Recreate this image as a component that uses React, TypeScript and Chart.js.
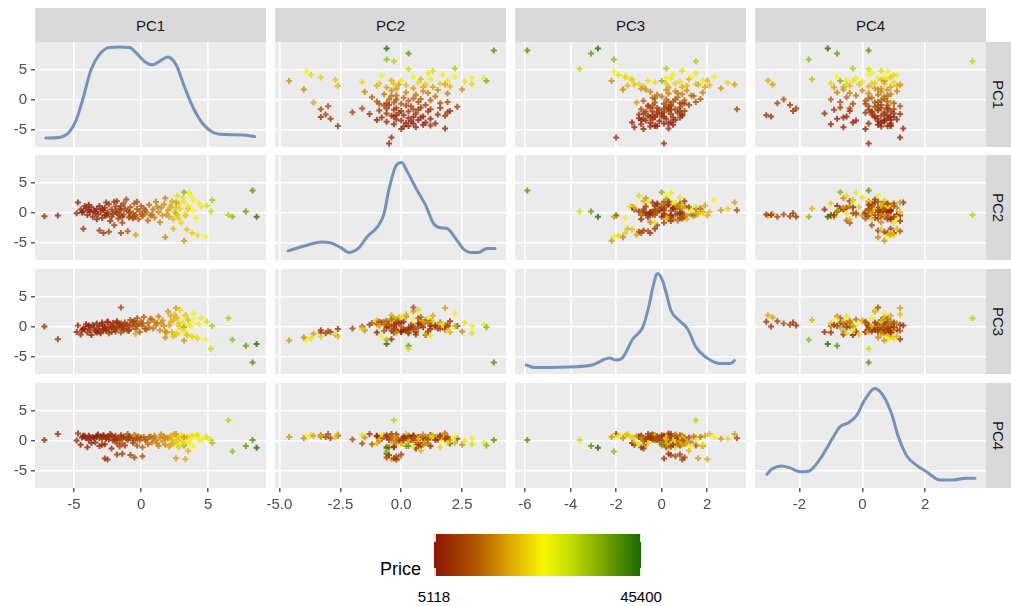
import React, { useEffect, useRef } from "react";
import { Chart, registerables } from "chart.js";
Chart.register(...registerables);

// ---------------- data ----------------
const variables = ["PC1", "PC2", "PC3", "PC4"];

const pc1 = [
  -7.2, -6.2,
  -4.8, -4.7, -4.5, -4.3, -4.1, -4.0, -3.9, -3.8, -3.7, -3.6, -3.5, -3.4, -3.3, -3.2, -3.1, -3.0, -2.9, -2.8, -2.7, -2.6, -2.5, -2.4, -2.3, -2.2, -2.1, -2.0, -1.9, -1.8, -1.7, -1.6, -1.5, -1.3, -1.2, -1.1, -4.2,
  3.3, 2.6, -0.5, -2.7, -1.8, -0.8, 0.1, -1.4, 3.5, -2.5,
  -4.3, -3.1, -2.8, -2.4, -1.5, -1.0, -2.0, -1.4,
  -1.0, -0.9, -0.8, -0.6, -0.5, -0.4, -0.3, -0.2, -0.1, 0.0, 0.1, 0.2, 0.4, 0.5, 0.6, 0.8, 0.9, 1.0, 1.1, 1.3, 1.4, 1.5, 1.6, 1.7, 1.8,
  2.0, 2.1, 2.2, 2.3, 2.4, 2.5, 2.6, 2.7, 2.8, 2.9, 3.0, 3.1, 3.3, 3.5, 3.7, 3.9, 4.1, 4.3, 3.6,
  4.8, 4.2, 3.8, 3.4, 3.2, 1.8, 2.4, -0.4,
  8.6, 8.3, 7.8, 6.8, 6.5, 5.2, 5.3, 4.9, 4.5, 3.2, 2.7,
  2.6, -1.5,
  -4.4, -3.9, -3.3, -2.9, -2.6, -2.2, -1.9, -1.6, -1.3, -0.9, -0.6, -0.3, 0.3, 0.7, 1.2, 1.9, 2.2, 2.8, 3.2, 3.9,
];
const pc2 = [
  -0.5, -0.4,
  0.0, 1.8, 0.6, 0.3, 0.9, -0.3, 0.5, 0.2, 1.0, -0.6, 0.4, 0.0, 0.7, -0.2, 1.2, 0.3, -0.8, 0.5, 0.9, -0.4, 0.1, 1.5, -1.3, 0.6, -0.1, 1.9, 0.3, 2.0, -0.9, 0.7, 1.2, -0.2, 0.8, 2.3, 1.2,
  -0.4, -0.1, -0.6, -0.3, 0.0, -0.5, -0.2, -0.6, 0.8, -0.2,
  -2.6, -2.9, -3.3, -3.1, -3.3, -3.0, -2.0, -1.6,
  0.4, -0.7, 1.0, 0.0, 1.6, -0.3, 0.7, -1.0, 0.3, 1.2, -0.5, 0.8, 0.1, -1.2, 1.4, -0.2, 0.6, -0.7, 1.9, 0.2, -1.5, 0.9, -0.4, 1.5, 2.5,
  0.5, -0.6, 1.3, 2.0, -1.0, 0.2, 1.0, -0.3, 1.6, 0.7, -1.6, 2.6, 0.0, 1.2, 2.9, 0.5, -0.8, 1.7, 3.4,
  -3.9, -3.7, -3.3, -2.7, -4.6, -4.0, -2.6, -3.6,
  -0.6, 3.8, 0.3, -0.6, -0.3, 0.3, 2.2, 1.3, 1.1, 3.5, 2.9,
  1.8, 0.5,
  0.1, 1.4, -1.0, 0.8, 1.8, -0.6, 1.1, -0.3, 1.6, 0.2, -0.9, 1.9, 0.5, -0.4, 1.1, -0.2, 0.9, -0.9, 1.9, 2.2,
];
const pc3 = [
  0.1, -2.0,
  -0.8, 0.3, -1.2, -0.2, 0.5, -0.9, 0.1, -0.5, -1.3, 0.4, -0.1, -0.7, 0.6, -0.4, 0.2, -1.0, 0.8, -0.3, 0.0, -0.6, 0.9, -0.2, 0.4, -0.8, 0.7, 0.1, -0.4, 1.0, 0.3, -0.1, 0.6, -0.5, 0.8, 0.2, -0.3,
  2.0, 1.6, 1.0, 0.1, 0.8, 0.4, 0.6, 0.3, 1.2, 0.9,
  -0.3, -0.8, -0.5, -1.0, -0.9, -0.6, -0.2, 0.1,
  0.4, -0.6, 1.2, 0.1, 0.8, -0.3, 1.5, 0.5, -0.8, 1.0, 0.2, 1.7, -0.4, 0.7, 0.0, 1.3, -0.2, 0.9, 0.3, 1.8, -0.5, 0.6, 1.1, 0.2, -0.7,
  2.6, 0.3, 1.9, -0.8, 1.1, 2.1, -1.2, 1.5, 0.6, 2.9, -0.3, 0.8, 1.8, -1.4, 0.2, 1.3, -1.6, 0.5, 0.4,
  -2.1, -1.9, -1.6, -1.3, -2.2, -1.7, -1.5, -1.1,
  -2.8, -5.9, -3.1, -2.1, 1.5, -3.6, 0.2, 0.9, 1.5, 0.0, -1.0,
  3.2, 3.3,
  -0.5, 0.3, -0.9, 0.5, -0.4, 0.0, -0.7, 0.4, -0.2, -0.4, 0.9, 0.3, -0.3, 1.4, 0.7, -0.9, 0.9, 0.2, -0.6, 2.3,
];
const pc4 = [
  0.2, 1.2,
  0.1, 1.3, -0.6, 0.8, 0.5, -1.0, 0.9, 0.6, -0.3, 0.7, 0.5, -0.2, 0.7, 1.1, -0.8, 0.8, 0.4, 0.9, -0.5, 0.6, 0.8, 0.3, 1.2, -1.2, 0.1, 0.7, 0.9, -0.4, 0.5, 0.2, 1.0, 0.6, -0.7, 0.4, 0.9,
  -3.0, -2.85, -2.7, -2.9, -2.2, -2.3, -2.5, -2.1, -1.6, -3.05,
  0.9, 0.5, 1.0, 0.7, 0.8, 1.2, 0.3, -0.4,
  0.2, 0.8, 0.6, -0.3, 1.0, 0.4, -0.7, 0.8, 0.1, 0.6, -1.0, 0.7, 0.3, -0.5, 0.7, -0.2, 0.5, 0.9, 0.2, -0.8, 0.6, 1.1, 0.0, 0.8, -0.6,
  0.4, -0.9, 0.9, 0.2, -0.4, 1.2, -0.1, 0.7, -1.0, 0.4, 1.0, 0.0, -0.5, 0.8, 0.5, -0.8, 1.1, 0.2, -0.2,
  0.8, 1.0, 0.9, 0.6, 0.7, 0.5, 1.1, 0.9,
  -1.1, 0.2, -0.8, -1.7, 3.5, 0.2, -0.3, 0.6, 0.3, -0.7, -0.5,
  1.2, 0.5,
  0.6, 0.2, 0.9, -0.6, 0.4, 1.0, 0.3, -0.9, 0.8, 0.5, 0.1, 0.5, 0.2, 0.8, -0.4, 0.6, -0.6, 0.3, -0.3, 0.7,
];
const price = [
  7000, 7600,
  6200, 7000, 6500, 5600, 5118, 6800, 5400, 6000, 5800, 6600, 5300, 6300, 5500, 6900, 6100, 7200, 7500, 6400, 7100, 7800, 6700, 7300, 8200, 7600, 8000, 8300, 7900, 8600, 8800, 9000, 9300, 9600, 9100, 9800, 7400,
  20000, 19000, 10000, 8000, 8500, 9500, 11000, 8000, 21000, 8000,
  8500, 9000, 8000, 9500, 11000, 12000, 10000, 10500,
  10200, 10800, 10500, 11200, 11600, 12000, 11900, 12500, 12800, 13100, 13400, 13800, 14200, 14000, 14600, 15000, 15300, 15800, 16000, 16400, 16800, 17000, 17300, 17600, 17000,
  18500, 19000, 19500, 20500, 21000, 21500, 22000, 22500, 23000, 23500, 24000, 24500, 25000, 25500, 26000, 26500, 27000, 27500, 28000,
  27000, 24000, 23000, 22000, 18000, 17000, 21000, 19000,
  45400, 41000, 40000, 36000, 33000, 31000, 34000, 30000, 28000, 37000, 30000,
  19000, 11000,
  5900, 6400, 6200, 7000, 7700, 8100, 8400, 9000, 9400, 10300, 11000, 11800, 13000, 14800, 16200, 18000, 20000, 22800, 24800, 26800,
];

// density curves on the diagonal (x in variable units, y in panel units)
const dens1X = [-7.1, -6.1, -5.35, -4.85, -4.36, -3.73, -3.11, -2.37, -1.6, -0.87, -0.37, 0.25, 0.87, 1.37, 1.99, 2.61, 3.23, 3.85, 4.6, 5.34, 6.34, 7.58, 8.46];
const dens1Y = [-6.3, -6.2, -5.3, -3.4, 0, 5.06, 7.6, 8.8, 8.85, 8.8, 7.9, 6.46, 5.9, 6.46, 7.2, 5.9, 2.24, -1.13, -3.93, -5.34, -5.73, -5.8, -6.07];
const dens2X = [-4.65, -3.98, -3.29, -2.89, -2.48, -2.14, -1.73, -1.39, -0.98, -0.71, -0.51, -0.23, 0.01, 0.24, 0.65, 0.99, 1.33, 1.6, 1.88, 2.22, 2.56, 2.83, 3.17, 3.51, 3.85];
const dens2Y = [-6.27, -5.47, -4.78, -4.94, -5.74, -6.54, -5.74, -3.88, -2.28, -0.16, 3.83, 7.8, 8.45, 7.0, 3.83, 1.44, -1.75, -2.44, -2.55, -4.15, -6.01, -6.54, -6.54, -5.9, -5.9];
const dens3X = [-5.95, -5.58, -3.75, -3.03, -2.29, -2.0, -1.71, -1.27, -0.83, -0.54, -0.39, -0.18, 0.04, 0.19, 0.41, 0.78, 1.14, 1.51, 1.95, 2.53, 3.04, 3.19];
const dens3Y = [-6.3, -6.7, -6.58, -6.25, -5.14, -5.47, -5.03, -1.97, 0, 3.87, 6.63, 8.97, 7.75, 5.8, 2.75, 1.08, -0.3, -3.37, -5.03, -6.03, -6.03, -5.58];
const dens4X = [-3.03, -2.88, -2.56, -2.3, -1.98, -1.71, -1.34, -0.97, -0.71, -0.44, -0.18, 0.09, 0.4, 0.67, 0.93, 1.14, 1.41, 1.73, 2.04, 2.47, 2.89, 3.31, 3.58];
const dens4Y = [-5.53, -4.68, -4.13, -4.45, -5.1, -5.0, -2.95, 0.27, 2.42, 3.06, 4.3, 7.0, 8.77, 7.53, 4.58, 0.81, -2.42, -4.03, -5.1, -6.45, -6.45, -6.18, -6.18];

const xTickValues = [[-5, 0, 5], [-5, -2.5, 0, 2.5], [-6, -4, -2, 0, 2], [-2, 0, 2]];
const xTickLabels = [["-5", "0", "5"], ["-5.0", "-2.5", "0.0", "2.5"], ["-6", "-4", "-2", "0", "2"], ["-2", "0", "2"]];
const yTickValues = [-5, 0, 5];
const yTickLabels = ["-5", "0", "5"];
const xLimits = [[-7.9, 9.3], [-5.18, 4.3], [-6.44, 3.7], [-3.41, 3.93]];
const yLimits = [-7.8, 9.7];
const legendTitle = "Price";
const legendLabels = ["5118", "45400"];
const priceRange = [5118, 45400];

// ---------------- style / layout ----------------
const FONT = "'Liberation Sans', Arial, sans-serif";
const COL_X = [35, 275, 515, 755];
const ROW_Y = [42, 155, 269, 383];
const PW = 231;
const PH = 105;
const AXW = 35;
const AXH = 32;
const SIDE = 14; // room for x tick labels that overhang the panel edges

const GRAD_STOPS: [number, number[]][] = [
  [0, [139, 21, 4]],
  [0.2, [176, 84, 0]],
  [0.37, [222, 168, 0]],
  [0.53, [248, 246, 0]],
  [0.68, [186, 214, 0]],
  [0.84, [110, 158, 0]],
  [1, [24, 106, 0]],
];

function priceColor(p: number, alpha = 0.78) {
  const t = Math.max(0, Math.min(1, (p - priceRange[0]) / (priceRange[1] - priceRange[0])));
  for (let i = 0; i < GRAD_STOPS.length - 1; i++) {
    const [t0, c0] = GRAD_STOPS[i];
    const [t1, c1] = GRAD_STOPS[i + 1];
    if (t <= t1) {
      const f = (t - t0) / (t1 - t0);
      const c = c0.map((v, k) => Math.round(v + (c1[k] - v) * f));
      return `rgba(${c[0]},${c[1]},${c[2]},${alpha})`;
    }
  }
  const c = GRAD_STOPS[GRAD_STOPS.length - 1][1];
  return `rgba(${c[0]},${c[1]},${c[2]},${alpha})`;
}

const gradientCss =
  "linear-gradient(to right, " +
  GRAD_STOPS.map(([t, c]) => `rgb(${c[0]},${c[1]},${c[2]}) ${t * 100}%`).join(", ") +
  ")";

const bgPlugin = {
  id: "panelBg",
  beforeDraw(chart: any) {
    const { ctx, chartArea: a } = chart;
    ctx.save();
    ctx.fillStyle = "#EBEBEB";
    ctx.fillRect(a.left, a.top, a.right - a.left, a.bottom - a.top);
    ctx.restore();
  },
};

function zeroPadding(s: any) {
  s.paddingLeft = 0;
  s.paddingRight = 0;
  s.paddingTop = 0;
  s.paddingBottom = 0;
}

function Panel({ r, c }: { r: number; c: number }) {
  const ref = useRef<HTMLCanvasElement>(null);
  const isLeft = c === 0;
  const isBottom = r === 3;
  const padL = isBottom && !isLeft ? SIDE : 0;
  const padR = isBottom ? SIDE : 0;
  const left = COL_X[c] - (isLeft ? AXW : 0) - padL;
  const top = ROW_Y[r];
  const w = PW + (isLeft ? AXW : 0) + padL + padR;
  const h = PH + (isBottom ? AXH : 0);

  useEffect(() => {
    const vars = [pc1, pc2, pc3, pc4];
    const densX = [dens1X, dens2X, dens3X, dens4X];
    const densY = [dens1Y, dens2Y, dens3Y, dens4Y];
    let datasets: any[];
    if (r === c) {
      datasets = [
        {
          data: densX[c].map((x, i) => ({ x, y: densY[c][i] })),
          showLine: true,
          borderColor: "#7393BA",
          borderWidth: 3,
          pointRadius: 0,
          fill: false,
          cubicInterpolationMode: "monotone",
          borderCapStyle: "round",
          borderJoinStyle: "round",
        },
      ];
    } else {
      const colors = price.map((p) => priceColor(p));
      datasets = [
        {
          data: vars[c].map((x, i) => ({ x, y: vars[r][i] })),
          showLine: false,
          pointStyle: "cross",
          pointRadius: 3,
          pointBorderWidth: 2,
          pointBorderColor: colors,
          pointBackgroundColor: colors,
        },
      ];
    }
    const chart = new Chart(ref.current as HTMLCanvasElement, {
      type: "scatter",
      data: { datasets },
      plugins: [bgPlugin],
      options: {
        animation: false,
        responsive: false,
        maintainAspectRatio: false,
        events: [],
        layout: { padding: { left: padL, right: padR, top: 0, bottom: 0 }, autoPadding: false },
        plugins: { legend: { display: false }, tooltip: { enabled: false } },
        scales: {
          x: {
            type: "linear",
            min: xLimits[c][0],
            max: xLimits[c][1],
            border: { display: false },
            grid: {
              color: "#FFFFFF",
              lineWidth: 1.6,
              drawTicks: isBottom,
              tickLength: 4,
              tickColor: "#333333",
              tickWidth: 1.2,
            },
            ticks: {
              display: isBottom,
              color: "#4D4D4D",
              font: { family: FONT, size: 15 },
              padding: 4,
              maxRotation: 0,
              autoSkip: false,
              callback: (v: any) => {
                const i = xTickValues[c].indexOf(Number(v));
                return i >= 0 ? xTickLabels[c][i] : "";
              },
            },
            afterBuildTicks: (s: any) => {
              s.ticks = xTickValues[c].map((v) => ({ value: v }));
            },
            afterFit: (s: any) => {
              s.height = isBottom ? AXH : 0;
              zeroPadding(s);
            },
          },
          y: {
            type: "linear",
            position: "left",
            min: yLimits[0],
            max: yLimits[1],
            border: { display: false },
            grid: {
              color: "#FFFFFF",
              lineWidth: 1.6,
              drawTicks: isLeft,
              tickLength: 4,
              tickColor: "#333333",
              tickWidth: 1.2,
            },
            ticks: {
              display: isLeft,
              color: "#4D4D4D",
              font: { family: FONT, size: 15 },
              padding: 4,
              autoSkip: false,
              callback: (v: any) => {
                const i = yTickValues.indexOf(Number(v));
                return i >= 0 ? yTickLabels[i] : "";
              },
            },
            afterBuildTicks: (s: any) => {
              s.ticks = yTickValues.map((v) => ({ value: v }));
            },
            afterFit: (s: any) => {
              s.width = isLeft ? AXW : 0;
              zeroPadding(s);
            },
          },
        },
      } as any,
    });
    return () => chart.destroy();
  }, [r, c]);

  return (
    <canvas
      ref={ref}
      width={w}
      height={h}
      style={{ position: "absolute", left, top, width: w, height: h }}
    />
  );
}

export default function App() {
  const panels: JSX.Element[] = [];
  for (let r = 0; r < 4; r++) {
    for (let c = 0; c < 4; c++) {
      panels.push(<Panel key={`${r}-${c}`} r={r} c={c} />);
    }
  }
  return (
    <div
      style={{
        position: "absolute",
        left: 0,
        top: 0,
        width: 1011,
        height: 606,
        background: "#FFFFFF",
        fontFamily: FONT,
        overflow: "hidden",
      }}
    >
      {variables.map((v, c) => (
        <div
          key={`top-${v}`}
          style={{
            position: "absolute",
            left: COL_X[c],
            top: 8,
            width: PW,
            height: 34,
            background: "#D9D9D9",
            color: "#1A1A1A",
            fontSize: 15,
            display: "flex",
            alignItems: "center",
            justifyContent: "center",
          }}
        >
          {v}
        </div>
      ))}
      {variables.map((v, r) => (
        <div
          key={`right-${v}`}
          style={{
            position: "absolute",
            left: 986,
            top: ROW_Y[r],
            width: 25,
            height: PH,
            background: "#D9D9D9",
            color: "#1A1A1A",
            fontSize: 15,
            display: "flex",
            alignItems: "center",
            justifyContent: "center",
            writingMode: "vertical-rl",
          }}
        >
          {v}
        </div>
      ))}
      {panels}
      <div
        style={{
          position: "absolute",
          left: 380,
          top: 558,
          fontSize: 18,
          lineHeight: "22px",
          color: "#000000",
        }}
      >
        {legendTitle}
      </div>
      <div
        style={{
          position: "absolute",
          left: 434,
          top: 534,
          width: 207,
          height: 42,
          background: gradientCss,
        }}
      />
      <div style={{ position: "absolute", left: 434, top: 534, width: 1.5, height: 8, background: "rgba(255,255,255,0.85)" }} />
      <div style={{ position: "absolute", left: 434, top: 568, width: 1.5, height: 8, background: "rgba(255,255,255,0.85)" }} />
      <div style={{ position: "absolute", left: 639.5, top: 534, width: 1.5, height: 8, background: "rgba(255,255,255,0.85)" }} />
      <div style={{ position: "absolute", left: 639.5, top: 568, width: 1.5, height: 8, background: "rgba(255,255,255,0.85)" }} />
      {legendLabels.map((t, i) => (
        <div
          key={t}
          style={{
            position: "absolute",
            left: (i === 0 ? 434 : 641) - 40,
            top: 588,
            width: 80,
            textAlign: "center",
            fontSize: 15,
            lineHeight: "18px",
            color: "#000000",
          }}
        >
          {t}
        </div>
      ))}
    </div>
  );
}
